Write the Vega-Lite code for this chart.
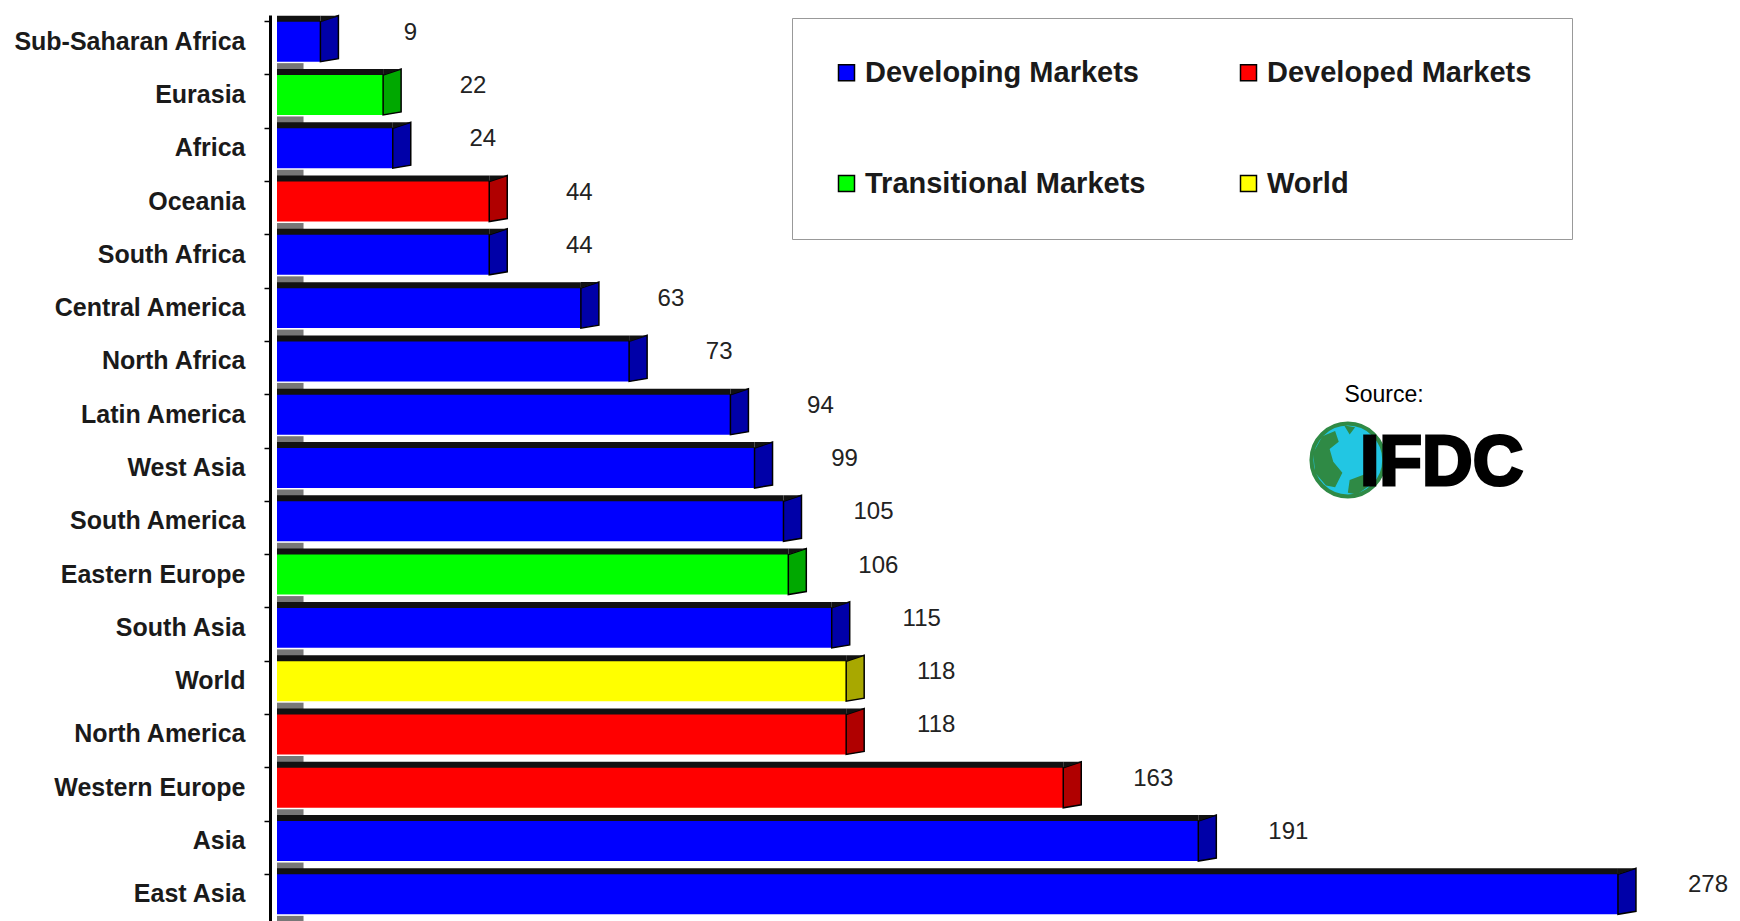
{
  "$schema": "https://vega.github.io/schema/vega-lite/v6.json",
  "autosize": "none",
  "padding": {"left": 277, "top": 15, "right": 0, "bottom": 0},
  "width": 1463,
  "height": 906,
  "background": "white",
  "config": {"view": {"stroke": null}},
  "data": {
    "values": [
      {"region": "Sub-Saharan Africa", "value": 9, "type": "Developing Markets"},
      {"region": "Eurasia", "value": 22, "type": "Transitional Markets"},
      {"region": "Africa", "value": 24, "type": "Developing Markets"},
      {"region": "Oceania", "value": 44, "type": "Developed Markets"},
      {"region": "South Africa", "value": 44, "type": "Developing Markets"},
      {"region": "Central America", "value": 63, "type": "Developing Markets"},
      {"region": "North Africa", "value": 73, "type": "Developing Markets"},
      {"region": "Latin America", "value": 94, "type": "Developing Markets"},
      {"region": "West Asia", "value": 99, "type": "Developing Markets"},
      {"region": "South America", "value": 105, "type": "Developing Markets"},
      {"region": "Eastern Europe", "value": 106, "type": "Transitional Markets"},
      {"region": "South Asia", "value": 115, "type": "Developing Markets"},
      {"region": "World", "value": 118, "type": "World"},
      {"region": "North America", "value": 118, "type": "Developed Markets"},
      {"region": "Western Europe", "value": 163, "type": "Developed Markets"},
      {"region": "Asia", "value": 191, "type": "Developing Markets"},
      {"region": "East Asia", "value": 278, "type": "Developing Markets"}
    ]
  },
  "encoding": {
    "y": {
      "field": "region", "type": "nominal", "sort": null, "title": null,
      "scale": {"paddingInner": 0.25, "paddingOuter": 0.125},
      "axis": {
        "offset": 7, "domainColor": "#000", "domainWidth": 3,
        "ticks": true, "bandPosition": 0, "tickSize": 6, "tickColor": "#000", "tickWidth": 1.5,
        "labelFont": "Liberation Sans", "labelFontWeight": "bold", "labelFontSize": 25,
        "labelColor": "#1a1a1a", "labelPadding": 19, "labelLimit": 400
      }
    }
  },
  "layer": [
    {
      "mark": {"type": "bar", "color": "#777777", "height": 8, "yOffset": 25.5},
      "encoding": {"x": {"datum": 5.5, "type": "quantitative", "scale": {"domain": [0, 303.3], "nice": false, "zero": true}, "axis": null}}
    },
    {
      "mark": {"type": "bar", "color": "#111111", "yOffset": -6},
      "encoding": {"x": {"field": "value", "type": "quantitative", "scale": {"domain": [0, 303.3], "nice": false}, "axis": null}}
    },
    {
      "mark": {"type": "bar"},
      "encoding": {
        "x": {"field": "value", "type": "quantitative", "axis": null},
        "color": {
          "field": "type", "type": "nominal",
          "scale": {
            "domain": ["Developing Markets", "Developed Markets", "Transitional Markets", "World"],
            "range": ["#0000ff", "#ff0000", "#00ff00", "#ffff00"]
          },
          "legend": {
            "title": null, "orient": "none", "legendX": 515, "legendY": 3, "direction": "horizontal",
            "columns": 2, "columnPadding": 88, "rowPadding": 81, "padding": 40,
            "strokeColor": "#999", "fillColor": "white",
            "symbolType": "square", "symbolSize": 256, "symbolStrokeColor": "#000", "symbolStrokeWidth": 1.5, "symbolOpacity": 1,
            "labelFont": "Liberation Sans", "labelFontWeight": "bold", "labelFontSize": 29, "labelColor": "#1a1a1a",
            "labelOffset": 4, "labelLimit": 500
          }
        }
      }
    },
    {
      "mark": {"type": "point", "shape": "M0,-1 L0.9,-1.3 L0.9,0.85 L0,1 Z", "size": 1600, "filled": true, "opacity": 1, "stroke": "#000", "strokeWidth": 1.5},
      "encoding": {
        "x": {"field": "value", "type": "quantitative", "axis": null},
        "fill": {
          "field": "type", "type": "nominal", "legend": null,
          "scale": {
            "domain": ["Developing Markets", "Developed Markets", "Transitional Markets", "World"],
            "range": ["#0000a8", "#b00000", "#00a800", "#a8a800"]
          }
        }
      }
    },
    {
      "mark": {"type": "point", "shape": "M0,-1 L0,-1.3 L0.9,-1.3 Z", "size": 1600, "filled": true, "opacity": 1, "color": "#111111"},
      "encoding": {"x": {"field": "value", "type": "quantitative", "axis": null}}
    },
    {
      "mark": {"type": "text", "align": "center", "baseline": "middle", "dx": 90, "dy": -9, "font": "Liberation Sans", "fontSize": 24, "color": "#222"},
      "encoding": {
        "x": {"field": "value", "type": "quantitative", "axis": null},
        "text": {"field": "value", "type": "quantitative"}
      }
    },
    {
      "data": {"values": [{}]},
      "mark": {"type": "text", "align": "center", "baseline": "middle", "dy": -20, "font": "Liberation Sans", "fontSize": 23, "color": "#000"},
      "encoding": {
        "x": {"datum": 229.5, "type": "quantitative"},
        "y": {"datum": "Latin America"},
        "text": {"value": "Source:"}
      }
    },
    {
      "data": {"values": [{}]},
      "mark": {"type": "point", "shape": "circle", "size": 5300, "filled": true, "fill": "#22c6e3", "stroke": "#2f8a45", "strokeWidth": 4, "opacity": 1, "yOffset": -8},
      "encoding": {
        "x": {"datum": 222, "type": "quantitative"},
        "y": {"datum": "West Asia"}
      }
    },
    {
      "data": {"values": [{}]},
      "mark": {"type": "point", "shape": "M-0.95,-0.2 L-0.7,-0.65 L-0.35,-0.8 L-0.25,-0.5 L-0.5,-0.3 L-0.4,0.05 L-0.15,0.35 L-0.35,0.75 L-0.6,0.7 L-0.9,0.35 Z M0.05,0.55 L0.45,0.4 L0.6,0.7 L0.25,0.95 L0,0.9 Z M-0.1,-0.95 L0.2,-0.9 L0.05,-0.7 Z", "size": 5300, "filled": true, "fill": "#2f8a45", "opacity": 1, "yOffset": -8},
      "encoding": {
        "x": {"datum": 222, "type": "quantitative"},
        "y": {"datum": "West Asia"}
      }
    },
    {
      "data": {"values": [{}]},
      "mark": {"type": "text", "align": "left", "baseline": "alphabetic", "dy": 17, "font": "Liberation Sans", "fontWeight": "bold", "fontSize": 70, "color": "#000", "stroke": "#000", "strokeWidth": 3},
      "encoding": {
        "x": {"datum": 224.5, "type": "quantitative"},
        "y": {"datum": "West Asia"},
        "text": {"value": "IFDC"}
      }
    }
  ]
}
